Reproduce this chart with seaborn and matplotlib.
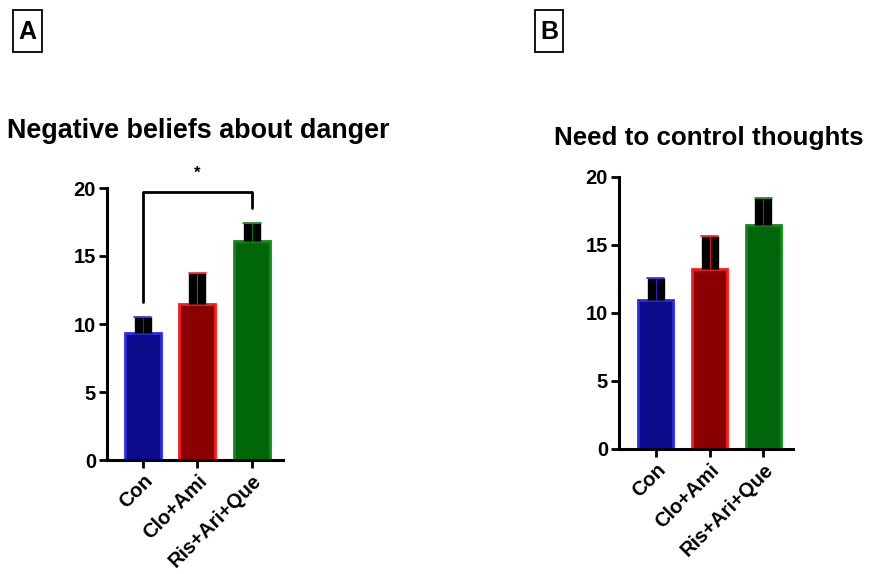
import matplotlib
matplotlib.use("Agg")
import matplotlib.pyplot as plt
from matplotlib.patches import Rectangle
import seaborn as sns
import pandas as pd

sns.set_theme(style="ticks")
plt.rcParams['font.family'] = ['Liberation Sans', 'DejaVu Sans']
plt.rcParams['font.weight'] = 'bold'
plt.rcParams['text.color'] = 'black'

groups = ["Con", "Clo+Ami", "Ris+Ari+Que"]
danger_mean = [9.35, 11.5, 16.1]
danger_sd = [1.15, 2.25, 1.3]
control_mean = [10.95, 13.2, 16.45]
control_sd = [1.6, 2.45, 2.0]
fill_colors = ["#0b0b8c", "#8a0000", "#00660a"]
edge_colors = ["#2a2ae6", "#ff1a1a", "#108a18"]

W, H = 869, 574
fig = plt.figure(figsize=(W / 100, H / 100), dpi=100)

def make_ax(left, right, bottom, top):
    return fig.add_axes([left / W, 1 - bottom / H, (right - left) / W, (bottom - top) / H])

def panel(ax, means, sds, xlim):
    df = pd.DataFrame({"group": groups, "value": means})
    sns.barplot(data=df, x="group", y="value", hue="group", palette=fill_colors,
                width=0.66, legend=False, ax=ax, errorbar=None, saturation=1)
    for patch, ec in zip(ax.patches, edge_colors):
        patch.set_edgecolor(ec)
        patch.set_linewidth(2)
    for i, (m, s) in enumerate(zip(means, sds)):
        ax.plot([i, i], [m, m + s], color="black", lw=12.5, solid_capstyle="butt", zorder=3)
        ax.plot([i, i], [m, m + s], color=edge_colors[i], lw=0.6, zorder=4)
        ax.plot([i - 0.16, i + 0.16], [m + s, m + s], color=edge_colors[i], lw=1.2, zorder=4)
    ax.set_xlim(*xlim)
    ax.set_ylim(0, 20)
    ax.set_yticks([0, 5, 10, 15, 20])
    ax.set_xlabel("")
    ax.set_ylabel("")
    sns.despine(ax=ax)
    for sp in ["left", "bottom"]:
        ax.spines[sp].set_linewidth(2.2)
        ax.spines[sp].set_color("black")
    ax.tick_params(axis="both", width=2, length=6, color="black", labelcolor="black", pad=2)
    ax.tick_params(axis="y", labelsize=14.5)
    ax.set_xticks(range(3))
    ax.set_xticklabels(groups, rotation=45, ha="right", rotation_mode="anchor",
                       fontweight="bold", fontsize=14.5)
    for lab in ax.get_yticklabels():
        lab.set_fontweight("bold")

axA = make_ax(107, 283, 460, 188)
panel(axA, danger_mean, danger_sd, (-0.655, 2.57))
fig.text(198.5 / W, 1 - 137.7 / H, "Negative beliefs about danger", fontsize=19.4,
         fontweight="bold", ha="center", va="baseline")

axB = make_ax(619, 793, 449, 177)
panel(axB, control_mean, control_sd, (-0.68, 2.55))
fig.text(708.5 / W, 1 - 145 / H, "Need to control thoughts", fontsize=18.7,
         fontweight="bold", ha="center", va="baseline")

# significance bracket
axA.plot([0, 0, 2, 2], [11.6, 19.7, 19.7, 18.55], color="black", lw=2, clip_on=False)
axA.text(1, 21.1, "*", ha="center", va="center", fontsize=12, fontweight="bold")

# panel letters with boxes
for x0, x1, letter in [(13, 42, "A"), (535, 563, "B")]:
    fig.patches.append(Rectangle((x0 / W, 1 - 52 / H), (x1 - x0) / W, 42 / H,
                                 transform=fig.transFigure, fill=False, ec="black", lw=1.3))
    fig.text((x0 + x1) / 2 / W, 1 - 39 / H, letter, fontsize=18, fontweight="bold",
             ha="center", va="baseline")

fig.savefig("out.png", dpi=100)
